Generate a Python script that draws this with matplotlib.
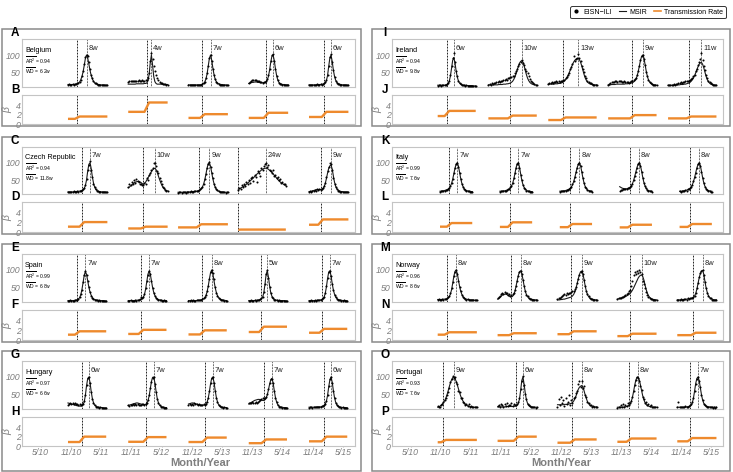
import datetime as dt
import matplotlib
matplotlib.use('Agg')
import matplotlib.pyplot as plt
from matplotlib.patches import Rectangle
from matplotlib.lines import Line2D

plt.rcParams['font.family'] = ['Liberation Sans', 'DejaVu Sans']
plt.rcParams['mathtext.fontset'] = 'custom'
plt.rcParams['mathtext.rm'] = 'Liberation Sans'
plt.rcParams['mathtext.it'] = 'Liberation Sans:italic'

# ---------------- data ----------------
tick_labels = ['5/10', '11/10', '5/11', '11/11', '5/12', '11/12', '5/13', '11/13', '5/14', '11/14', '5/15']
tick_dates = [(2010, 5, 1), (2010, 11, 1), (2011, 5, 1), (2011, 11, 1), (2012, 5, 1), (2012, 11, 1),
              (2013, 5, 1), (2013, 11, 1), (2014, 5, 1), (2014, 11, 1), (2015, 5, 1)]
season_years = [2010, 2011, 2012, 2013, 2014]

# Belgium
belgium_first = [41, 41, 41, 41, 41]
belgium_peak = [16, 20, 19, 21, 19]
belgium_weeks = [8, 4, 7, 6, 6]
belgium_beta_lo = [1.1, 2.6, 1.3, 1.3, 1.5]
belgium_beta_hi = [1.6, 4.6, 2.1, 2.4, 2.6]
belgium_msir = [
    [17,17,17,17,17,17,18,18,19,21,24,30,39,52,70,90,100,92,75,57,43,33,26,22,19,18,17,17,16,16,16,16,15,15,15],
    [18,18,18,18,18,18,18,19,19,19,19,19,19,19,20,20,21,28,45,78,100,72,40,25,20,18,18,18,18,18,17,17,17,17,17],
    [16,16,16,16,16,16,16,16,16,16,16,17,18,20,24,32,46,68,90,100,86,64,45,32,25,21,19,18,17,17,16,16,16,15,15],
    [20,21,22,23,23,24,24,24,23,23,22,22,22,22,23,25,30,40,58,80,97,100,85,62,43,30,23,20,18,17,17,17,16,16,16],
    [16,16,16,16,16,16,16,17,17,17,17,18,18,19,22,28,42,68,92,100,82,58,40,29,23,20,18,17,17,16,16,16,16,15,15],
]
belgium_ili = [
    [16,18,17,16,18,17,19,18,20,22,25,31,40,55,75,95,101,98,80,60,44,34,27,22,20,18,17,16,17,16,15,16,15,16,15],
    [25,26,27,26,28,27,26,28,27,29,28,27,29,28,28,29,31,36,50,82,105,90,68,55,44,36,30,25,22,20,19,18,18,17,17],
    [15,16,17,16,15,16,17,16,15,17,16,17,18,21,25,34,48,70,92,101,84,62,44,33,24,21,18,17,16,17,16,15,16,15,15],
    [22,25,28,30,31,29,30,28,26,27,24,25,22,23,25,27,33,44,60,82,99,103,82,60,41,30,22,19,18,17,16,17,16,16,15],
    [17,16,15,17,16,17,16,18,17,16,18,17,19,20,24,30,45,70,95,102,80,57,38,28,22,19,18,17,16,16,17,16,15,15,16],
]

# Czech Republic
czech_first = [41, 41, 32, 32, 41]
czech_peak = [19, 23, 27, 24, 19]
czech_weeks = [7, 10, 9, 24, 9]
czech_beta_lo = [1.1, 0.73, 0.95, 0.45, 1.5]
czech_beta_hi = [2.05, 1.1, 1.6, 0.5, 2.6]
czech_msir = [
    [16,16,16,16,16,16,17,17,17,18,18,19,20,22,26,34,50,75,95,100,84,60,42,30,23,20,18,17,17,16,16,16,16,15,15],
    [28,30,33,36,39,42,44,45,46,46,45,43,40,38,40,44,50,56,62,68,74,79,83,84,80,72,62,52,43,35,29,25,22,20,19],
    [15,15,15,15,15,15,15,15,16,16,16,16,17,17,17,18,18,19,20,22,25,30,38,50,66,84,97,100,90,72,54,40,30,24,20,18,17,16,16,16,15,15,15,15],
    [24,25,27,29,31,33,35,38,41,44,47,50,53,56,60,63,67,70,73,76,79,81,83,84,84,83,81,78,75,72,68,64,60,56,52,48,45,42,40,38,36,35],
    [17,17,18,19,20,21,22,23,23,23,23,24,26,31,40,54,70,84,91,93,82,62,44,32,25,21,19,18,17,17,16,16,16,16,15],
]
czech_ili = [
    [15,17,16,17,16,18,17,16,18,17,19,20,21,24,28,36,52,78,92,104,80,58,40,30,24,20,19,17,16,17,16,15,16,15,15],
    [30,38,35,45,40,50,42,52,48,45,40,38,36,35,42,40,55,50,65,70,80,85,98,100,90,75,70,55,48,40,30,26,22,20,18],
    [14,16,15,14,16,15,16,14,15,17,16,18,17,16,18,19,18,20,22,23,27,31,40,52,68,86,95,103,88,70,55,40,30,23,21,18,17,16,15,16,15,14,15,15],
    [22,28,25,35,30,40,33,45,38,50,42,55,60,48,65,58,45,75,70,62,85,80,90,95,100,88,92,80,75,70,78,62,65,55,60,50,52,42,45,38,40,33],
    [16,18,17,20,18,22,20,24,21,23,22,25,28,33,42,58,75,88,99,97,78,56,40,30,24,20,18,17,16,17,16,15,16,15,15],
]

# Spain
spain_first = [41, 41, 41, 41, 41]
spain_peak = [15, 18, 20, 16, 18]
spain_weeks = [7, 7, 8, 5, 7]
spain_beta_lo = [1.1, 1.25, 1.15, 1.65, 1.5]
spain_beta_hi = [1.8, 2.1, 2.0, 2.75, 2.3]
spain_msir = [
    [14,14,14,14,14,14,15,15,16,18,22,30,44,64,85,96,88,70,52,38,29,23,19,17,16,15,15,14,14,14,14,14,13,13],
    [14,14,14,14,14,14,14,15,15,15,16,17,19,23,31,46,67,88,97,89,70,51,37,28,22,19,17,16,15,15,14,14,14,14],
    [14,14,14,14,14,14,14,14,15,15,15,16,17,19,22,28,38,54,74,92,100,90,70,51,37,28,22,19,17,16,15,15,14,14],
    [14,14,14,14,14,14,15,15,15,16,17,19,24,36,60,88,98,80,55,36,26,20,17,16,15,15,14,14,14,14,14,14,13,13],
    [14,14,14,14,14,14,14,15,15,15,16,17,19,24,34,52,76,94,98,84,62,44,32,24,20,17,16,15,15,14,14,14,14,13],
]
spain_ili = [
    [13,14,15,14,13,14,15,16,17,19,24,32,45,66,86,97,87,68,52,37,28,22,19,17,16,15,14,15,14,13,14,14,13,13],
    [13,14,15,14,13,14,15,14,15,16,18,24,20,24,33,48,68,87,98,88,68,50,36,27,22,18,17,16,15,14,14,15,14,13],
    [13,14,15,14,15,14,13,15,16,15,16,17,18,20,23,29,40,55,76,93,101,92,76,52,36,27,22,18,17,16,15,14,14,13],
    [13,14,15,14,13,15,14,16,15,17,18,20,25,37,62,90,99,78,53,35,25,20,17,16,15,14,15,14,13,14,14,13,13,13],
    [14,13,15,14,14,15,14,16,15,16,17,18,20,25,35,54,78,95,97,82,60,43,31,24,19,17,16,15,14,14,15,14,13,13],
]

# Hungary
hungary_first = [41, 41, 41, 41, 41]
hungary_peak = [18, 22, 21, 20, 19]
hungary_weeks = [6, 7, 7, 7, 6]
hungary_beta_lo = [0.85, 0.9, 0.85, 0.6, 1.0]
hungary_beta_hi = [2.0, 1.9, 1.8, 1.4, 2.0]
hungary_msir = [
    [27,26,25,24,23,22,21,20,19,19,18,18,19,22,30,48,75,95,100,85,60,40,28,21,18,16,15,15,14,14,14,13,13,13],
    [20,21,22,23,24,25,26,27,27,26,25,24,23,22,22,23,26,33,46,66,87,99,100,84,60,40,28,21,18,16,15,15,14,14],
    [24,25,26,27,27,26,25,24,23,22,21,21,21,21,22,24,29,40,58,80,96,100,86,63,43,30,22,18,16,15,15,14,14,14],
    [24,26,28,30,32,34,35,36,37,37,36,35,34,34,36,41,50,64,80,92,96,84,62,43,30,22,18,16,15,15,14,14,14,13],
    [15,15,15,15,15,15,15,16,16,16,16,17,18,20,24,32,48,72,92,100,86,62,42,29,22,18,16,15,15,14,14,14,14,13],
]
hungary_ili = [
    [22,24,26,25,27,24,26,23,25,22,24,21,23,25,32,50,78,97,99,82,58,38,27,20,17,16,15,14,15,14,13,14,13,13],
    [21,19,22,20,23,21,24,22,23,20,22,21,23,24,22,25,28,34,48,68,86,97,99,80,57,38,27,20,17,16,15,14,14,13],
    [20,23,21,24,22,26,23,25,21,24,20,22,21,23,22,25,30,42,60,82,97,99,84,60,41,29,21,18,16,15,14,15,14,13],
    [26,28,27,29,28,27,30,28,30,32,34,38,40,42,40,44,52,66,82,93,95,82,60,41,29,21,17,16,15,14,14,13,14,13],
    [14,16,15,14,16,15,17,16,15,17,16,18,19,21,25,33,50,74,93,99,84,60,40,28,21,18,16,15,14,15,14,13,14,13],
]

# Ireland
ireland_first = [41, 33, 33, 33, 33]
ireland_peak = [14, 29, 26, 30, 29]
ireland_weeks = [6, 10, 13, 9, 11]
ireland_beta_lo = [1.7, 1.2, 0.85, 1.2, 1.2]
ireland_beta_hi = [2.8, 1.8, 1.4, 1.9, 1.6]
ireland_msir = [
    [15,15,15,15,15,15,15,16,17,20,26,40,62,85,93,78,55,38,27,21,18,16,15,15,15,14,14,14,14,14,14,13,13,13],
    [16,16,16,16,16,16,16,16,16,17,17,17,17,18,18,18,19,19,20,21,23,26,31,38,47,58,68,77,82,84,80,70,57,45,35,28,23,20,18,17,16,16,15],
    [18,18,18,18,18,18,19,19,19,20,20,21,22,24,27,31,36,42,49,57,65,73,80,85,88,90,90,87,80,70,58,46,36,29,24,21,19,18,17,17,16,16,16],
    [16,16,16,17,17,17,17,18,18,18,18,18,18,18,18,19,19,19,20,20,21,22,24,27,32,40,52,68,84,96,100,92,74,55,40,30,24,20,18,17,16,16,15],
    [15,15,15,15,15,15,15,16,16,16,16,17,17,17,18,18,19,20,21,23,26,30,35,42,50,59,67,74,78,79,74,64,52,40,31,25,21,18,17,16,16,15,15],
]
ireland_ili = [
    [14,15,16,14,15,16,15,17,18,22,28,45,70,92,106,80,56,40,28,22,18,17,15,16,14,15,14,14,13,14,14,13,13,13],
    [15,18,17,20,19,22,21,24,23,26,25,28,27,30,29,33,31,35,34,38,37,42,40,50,55,62,70,74,80,86,78,72,60,55,48,40,33,28,24,20,18,17,16],
    [19,22,20,24,22,25,23,26,24,27,25,28,26,29,30,35,38,45,50,60,66,75,98,84,88,92,103,92,82,70,60,52,40,34,28,24,22,20,18,17,17,16,16],
    [17,19,21,23,25,24,26,27,25,28,26,27,25,24,26,23,25,24,22,24,26,28,30,33,36,44,55,70,86,97,101,90,72,53,40,30,24,20,18,17,16,16,15],
    [15,16,15,17,16,18,17,19,18,20,21,23,22,25,24,27,26,28,27,30,32,35,40,45,55,60,72,80,90,105,85,70,58,45,35,28,23,20,18,17,16,16,15],
]

# Italy
italy_first = [43, 43, 43, 43, 43]
italy_peak = [15, 16, 17, 17, 17]
italy_weeks = [7, 7, 8, 8, 8]
italy_beta_lo = [1.1, 1.05, 1.0, 0.95, 1.05]
italy_beta_hi = [1.85, 2.0, 1.65, 1.5, 1.65]
italy_msir = [
    [18,18,19,19,20,21,22,24,27,32,40,52,68,84,96,100,90,72,54,40,31,25,22,20,19,18,18,17,17],
    [18,18,18,19,19,20,21,22,24,27,32,40,52,68,85,97,100,88,68,50,37,29,24,21,19,18,18,17,17],
    [18,18,18,19,19,20,21,22,24,26,30,36,45,57,71,85,95,100,92,75,57,42,32,26,22,20,19,18,18],
    [31,29,27,26,25,25,25,26,27,29,33,39,48,60,73,86,96,100,92,76,58,43,33,26,22,20,19,18,18],
    [18,18,18,19,19,20,21,22,24,26,30,36,45,57,71,85,95,100,92,75,57,42,32,26,22,20,19,18,18],
]
italy_ili = [
    [17,19,18,20,19,22,21,25,28,33,41,54,70,86,95,99,88,70,52,40,30,25,21,20,18,18,17,17,16],
    [17,18,19,18,20,19,22,23,25,29,34,42,55,70,86,96,99,86,66,49,36,28,23,20,19,18,17,17,16],
    [17,19,18,18,20,19,22,21,25,27,31,38,46,58,72,84,96,99,90,74,56,42,31,26,21,20,18,18,17],
    [20,21,22,23,23,24,25,26,27,30,34,40,49,61,74,86,95,99,90,74,57,42,32,26,21,20,18,18,17],
    [18,17,19,18,19,21,20,23,24,27,30,37,46,59,71,86,97,100,91,73,56,41,31,25,22,19,19,17,17],
]

# Norway
norway_first = [41, 41, 41, 41, 41]
norway_peak = [16, 20, 21, 21, 22]
norway_weeks = [8, 8, 9, 10, 8]
norway_beta_lo = [1.1, 1.0, 1.2, 0.8, 1.0]
norway_beta_hi = [1.6, 1.4, 1.8, 1.3, 1.5]
norway_msir = [
    [17,17,17,17,17,18,18,18,19,21,25,32,44,62,82,96,100,90,72,54,40,31,25,21,19,18,17,17,16,16,16,16,15,15,15],
    [18,20,23,26,29,31,32,32,31,29,27,25,24,26,31,40,54,70,85,95,98,90,74,56,41,31,25,21,19,18,17,17,16,16,16],
    [16,16,16,17,17,18,18,19,20,21,22,23,24,27,31,38,48,61,75,87,95,97,90,74,56,41,31,25,21,19,18,17,17,16,16],
    [18,19,20,21,22,23,24,25,27,29,31,34,38,43,49,56,63,70,77,82,85,86,82,72,58,45,35,28,23,20,18,17,17,16,16],
    [16,16,16,16,16,17,17,17,18,18,19,19,20,21,23,27,34,46,62,78,90,97,99,88,68,50,37,28,23,20,18,17,16,16,16],
]
norway_ili = [
    [16,18,17,16,18,17,19,18,20,23,27,35,48,66,84,95,100,88,70,52,40,30,25,22,19,17,18,16,17,15,16,16,15,16,15],
    [20,24,28,32,35,33,38,34,36,30,32,28,30,33,36,45,55,68,84,93,97,88,72,55,40,30,26,21,19,18,17,16,17,16,15],
    [18,22,20,25,28,30,33,31,35,32,36,34,38,40,42,46,52,63,76,86,94,96,88,72,55,42,32,26,22,19,18,17,16,16,15],
    [18,20,22,21,25,24,28,30,32,35,40,45,55,70,85,95,90,98,92,100,95,88,70,60,48,38,30,25,22,19,18,17,16,16,15],
    [15,17,16,18,16,17,19,18,17,20,19,21,20,22,24,28,36,48,63,80,92,96,100,86,66,48,36,27,22,20,17,17,16,15,16],
]

# Portugal
portugal_first = [41, 41, 41, 41, 41]
portugal_peak = [14, 22, 21, 18, 18]
portugal_weeks = [9, 6, 8, 8, 7]
portugal_beta_lo = [0.8, 1.1, 0.7, 0.9, 1.0]
portugal_beta_hi = [1.3, 2.0, 1.4, 1.6, 1.7]
portugal_msir = [
    [15,16,18,21,24,28,33,40,49,60,72,83,92,98,100,96,88,78,67,56,46,38,32,27,23,21,19,18,17,16,16,15,15,15,15],
    [16,16,16,16,16,16,16,16,17,17,17,17,17,17,18,18,19,21,26,38,62,90,100,80,55,36,26,20,17,16,16,15,15,15,15],
    [22,22,22,22,22,22,23,23,23,24,24,25,26,28,32,38,46,56,65,71,74,76,72,62,50,40,31,25,21,19,18,17,16,16,16],
    [15,15,15,15,15,15,16,16,17,18,20,24,31,42,58,76,91,99,100,92,78,62,47,36,28,23,20,18,17,16,16,15,15,15,15],
    [15,15,15,15,15,15,15,15,16,16,17,18,21,27,40,60,82,96,100,90,70,50,35,26,21,18,17,16,16,15,15,15,15,15,15],
]
portugal_ili = [
    [18,15,17,20,24,30,34,42,50,58,70,85,95,102,98,100,85,80,62,58,42,40,30,28,22,25,18,24,16,19,15,17,15,16,15],
    [18,22,16,25,20,17,24,19,26,18,22,20,28,19,23,21,20,24,30,42,66,88,103,78,52,38,24,22,18,17,15,16,15,14,15],
    [15,38,20,45,28,35,18,42,25,30,48,22,35,28,40,45,55,62,80,88,72,90,68,75,50,45,30,28,20,22,17,18,16,15,16],
    [14,16,15,20,16,24,17,22,19,26,22,28,33,44,60,78,92,101,98,90,76,64,44,38,26,30,20,25,18,22,16,17,15,16,15],
    [15,30,16,15,17,16,15,18,16,17,19,20,23,29,42,62,80,95,101,88,72,48,36,25,22,18,17,16,15,16,15,14,15,14,15],
]

countries = [
    ('Belgium', 0.94, 6.2, belgium_first, belgium_peak, belgium_weeks, belgium_msir, belgium_ili, belgium_beta_lo, belgium_beta_hi),
    ('Czech Republic', 0.94, 11.8, czech_first, czech_peak, czech_weeks, czech_msir, czech_ili, czech_beta_lo, czech_beta_hi),
    ('Spain', 0.99, 6.8, spain_first, spain_peak, spain_weeks, spain_msir, spain_ili, spain_beta_lo, spain_beta_hi),
    ('Hungary', 0.97, 6.6, hungary_first, hungary_peak, hungary_weeks, hungary_msir, hungary_ili, hungary_beta_lo, hungary_beta_hi),
    ('Ireland', 0.94, 9.8, ireland_first, ireland_peak, ireland_weeks, ireland_msir, ireland_ili, ireland_beta_lo, ireland_beta_hi),
    ('Italy', 0.99, 7.6, italy_first, italy_peak, italy_weeks, italy_msir, italy_ili, italy_beta_lo, italy_beta_hi),
    ('Norway', 0.96, 8.6, norway_first, norway_peak, norway_weeks, norway_msir, norway_ili, norway_beta_lo, norway_beta_hi),
    ('Portugal', 0.93, 7.6, portugal_first, portugal_peak, portugal_weeks, portugal_msir, portugal_ili, portugal_beta_lo, portugal_beta_hi),
]
letters = ['A', 'B', 'C', 'D', 'E', 'F', 'G', 'H', 'I', 'J', 'K', 'L', 'M', 'N', 'O', 'P']

# ---------------- layout ----------------
W, H = 733, 472
fig = plt.figure(figsize=(W / 100, H / 100), dpi=100)

ORANGE = '#EE8A2D'
GRAY = '#7f7f7f'
EPOCH = dt.date(2010, 1, 1)


def wk(d):
    return (d - EPOCH).days / 7.0


col_x = [(22, 355), (392, 723)]
top_rows = [(39, 87), (147, 194), (254, 302), (361, 409)]
bot_rows = [(95, 124), (202, 232), (310, 340), (417, 446)]
box_x = [(2, 361), (372, 730)]
box_y = [(29, 126), (137, 234), (244, 342), (351, 471)]
xlabel_x = [200, 561]
XLIM = (1.04, 288.4)
tick_pos = [wk(dt.date(*d)) for d in tick_dates]


def add_axes(xr, yr):
    return fig.add_axes([xr[0] / W, 1 - yr[1] / H, (xr[1] - xr[0]) / W, (yr[1] - yr[0]) / H])


def style(ax):
    for s in ax.spines.values():
        s.set_color('#c4c4c4')
        s.set_linewidth(0.8)
    ax.set_xlim(*XLIM)
    ax.tick_params(axis='both', length=0, labelsize=6.3, colors=GRAY, pad=1)
    for lab in ax.get_yticklabels():
        lab.set_fontstyle('italic')


for col in range(2):
    for row in range(4):
        ci = col * 4 + row
        name, ar2, wd, first, peak, weeks, msir, ili, blo, bhi = countries[ci]
        bx, by = box_x[col], box_y[row]
        fig.add_artist(Rectangle((bx[0] / W, 1 - by[1] / H), (bx[1] - bx[0]) / W, (by[1] - by[0]) / H,
                                 transform=fig.transFigure, fill=False, edgecolor='#8a8a8a', lw=1.1))
        axt = add_axes(col_x[col], top_rows[row])
        axb = add_axes(col_x[col], bot_rows[row])
        for k in range(5):
            x0 = wk(dt.date.fromisocalendar(season_years[k], first[k], 3))
            xs_m = [x0 + i for i in range(len(msir[k]))]
            xs_i = [x0 + i for i in range(len(ili[k]))]
            xp = x0 + peak[k]
            xo = xp - weeks[k]
            axt.plot(xs_m, msir[k], color='#1a1a1a', lw=0.8, zorder=3)
            axt.scatter(xs_i, ili[k], s=2.2, color='black', lw=0, zorder=4)
            axt.axvline(xo, color='black', lw=0.6, ls=(0, (2.2, 1.4)), zorder=2)
            axt.axvline(xp, color='black', lw=0.6, ls=(0, (0.8, 1.0)), zorder=2)
            axt.text(xp + 1.6, 0.81, f'{weeks[k]}w', transform=axt.get_xaxis_transform(),
                     fontsize=5.4, va='center', ha='left', color='#222222')
            xe = x0 + len(ili[k]) - 1
            bx_pts = [x0, max(x0, xo - 2), min(xe, xo + 2), xe]
            axb.plot(bx_pts, [blo[k], blo[k], bhi[k], bhi[k]], color=ORANGE, lw=1.7,
                     solid_capstyle='butt', zorder=3)
            axb.axvline(xo, color='black', lw=0.6, ls=(0, (2.2, 1.4)), zorder=2)
        axt.set_ylim(10, 145)
        axt.set_yticks([50, 100])
        axt.set_yticklabels(['50', '100'])
        axb.set_ylim(0, 6.2)
        axb.set_yticks([0, 2, 4])
        axb.set_yticklabels(['0', '2', '4'])
        for ax in (axt, axb):
            ax.set_xticks(tick_pos)
            style(ax)
        axt.set_xticklabels([])
        if row == 3:
            axb.set_xticklabels(tick_labels, fontstyle='italic')
            axb.tick_params(axis='x', length=1.0, color='#bbbbbb', pad=0.6)
        else:
            axb.set_xticklabels([])
        axb.set_ylabel(r'$\beta$', fontsize=7.5, color=GRAY, labelpad=1, style='italic')
        axt.text(0.009, 0.77, name, transform=axt.transAxes, fontsize=5.2, va='center', ha='left')
        axt.text(0.009, 0.555, r'$\overline{\mathrm{AR}^2}$' + f' = {ar2:.2f}', transform=axt.transAxes,
                 fontsize=3.6, va='center', ha='left')
        axt.text(0.009, 0.335, r'$\overline{\mathrm{WD}}$' + f' = {wd:.1f}w', transform=axt.transAxes,
                 fontsize=3.6, va='center', ha='left')
        lx = (col_x[col][0] - 7) / W
        fig.text(lx, 1 - (top_rows[row][0] - 6) / H, letters[2 * ci], fontsize=8.5, fontweight='bold',
                 ha='center', va='center')
        fig.text(lx, 1 - (bot_rows[row][0] - 5) / H, letters[2 * ci + 1], fontsize=8.5, fontweight='bold',
                 ha='center', va='center')
    fig.text(xlabel_x[col] / W, 1 - 462.5 / H, 'Month/Year', fontsize=8, fontweight='bold', color=GRAY,
             ha='center', va='center')

handles = [Line2D([], [], marker='o', ls='', color='black', ms=2),
           Line2D([], [], color='#1a1a1a', lw=0.8),
           Line2D([], [], color=ORANGE, lw=1.2)]
leg = fig.legend(handles, ['EISN\u2212ILI', 'MSIR', 'Transmission Rate'], loc='upper right',
                 bbox_to_anchor=(729 / W, 1 - 3 / H), ncol=3, fontsize=5, frameon=True, fancybox=True,
                 edgecolor='black', handlelength=1.0, handletextpad=0.5, columnspacing=1.0,
                 borderpad=0.35)
leg.get_frame().set_linewidth(0.7)

fig.savefig('out.png', dpi=100)
